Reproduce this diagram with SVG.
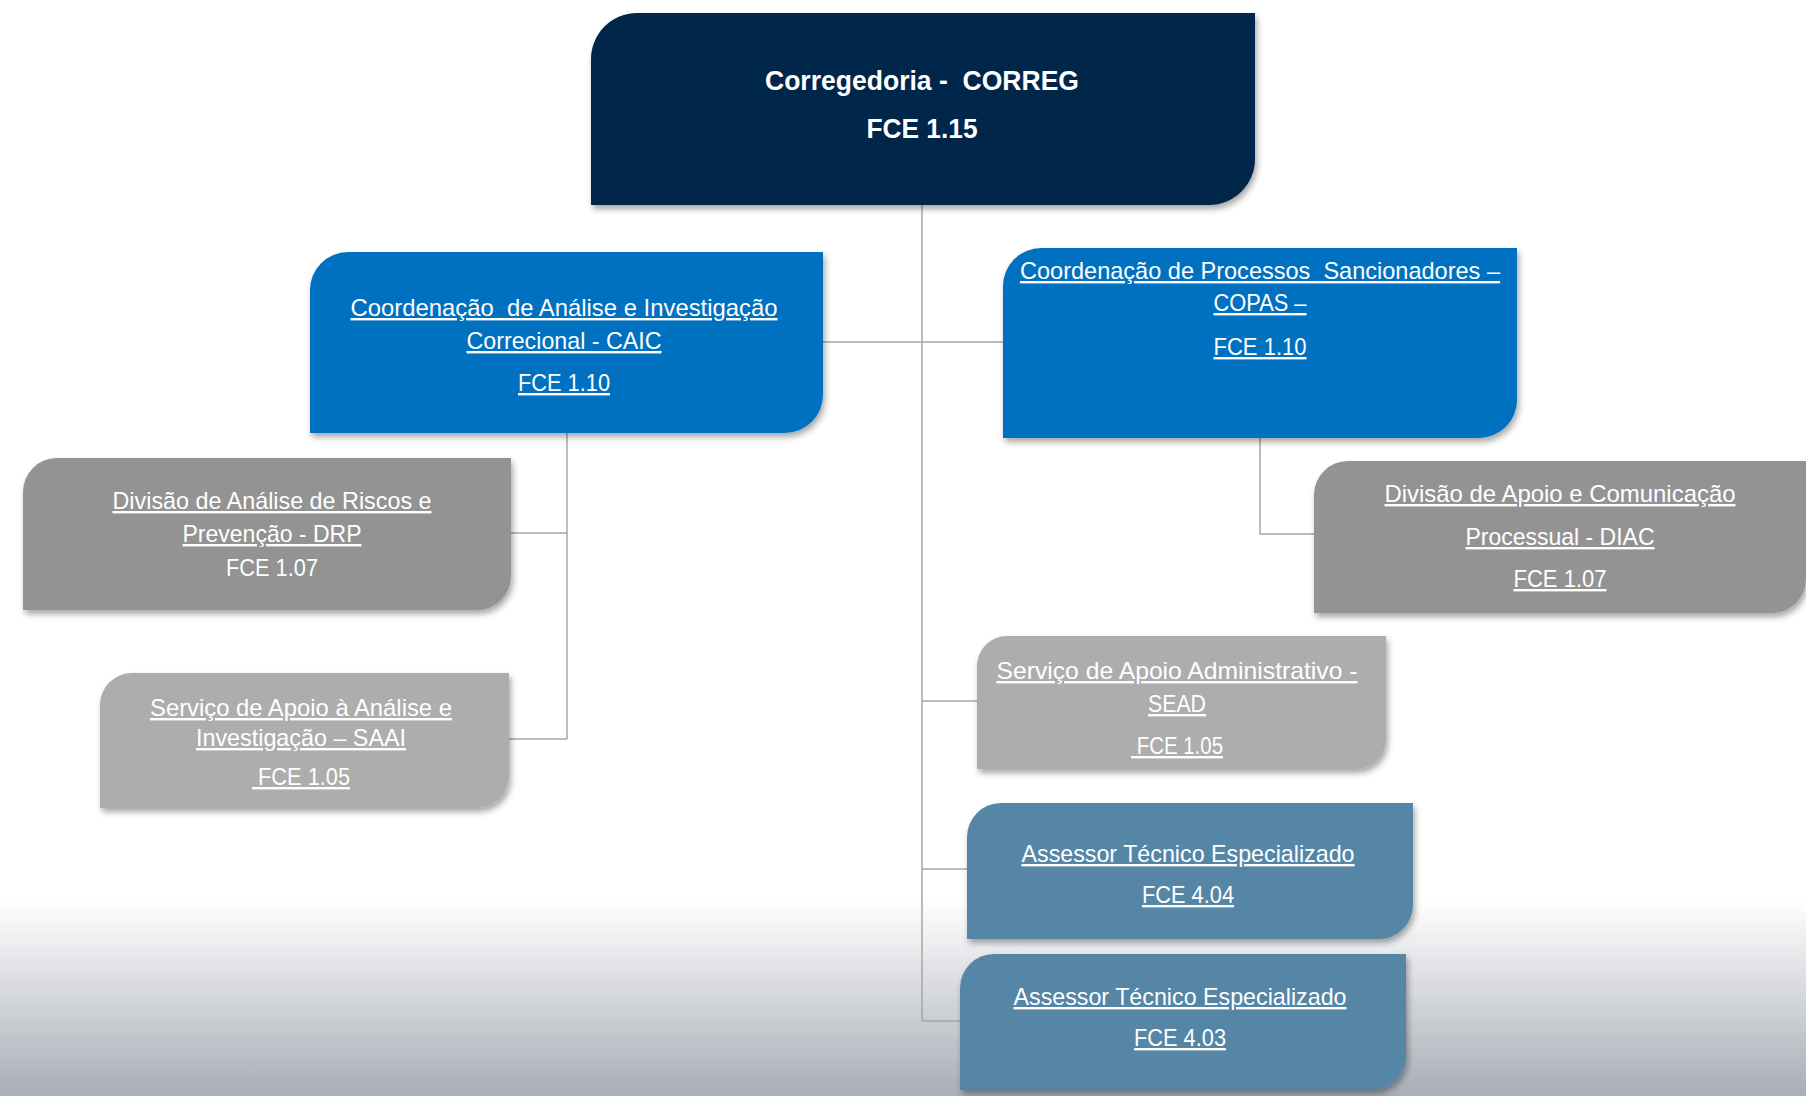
<svg xmlns="http://www.w3.org/2000/svg" width="1806" height="1096" viewBox="0 0 1806 1096">
<defs>
<linearGradient id="bg" x1="0" y1="0" x2="0" y2="1">
<stop offset="0" stop-color="#ffffff"/>
<stop offset="1" stop-color="#a8adb6"/>
</linearGradient>
<filter id="sh" x="-5%" y="-5%" width="115%" height="125%">
<feDropShadow dx="2" dy="4" stdDeviation="3" flood-color="#000" flood-opacity="0.35"/>
</filter>
</defs>
<style>
.t{font-family:"Liberation Sans",Arial,sans-serif;font-size:24px;fill:#ffffff;text-anchor:middle;white-space:pre}
.u{text-decoration:underline}
.b{font-weight:bold;font-size:28px}
.ln{stroke:#a6a6a6;stroke-width:1.5;fill:none}
.navy{fill:#04264a}
.blue{fill:#0070c0}
.gray{fill:#939393}
.lgray{fill:#adadad}
.steel{fill:#5586a6}
</style>
<rect x="0" y="0" width="1806" height="1096" fill="#ffffff"/>
<rect x="0" y="900" width="1806" height="196" fill="url(#bg)"/>

<g id="connectors">
<path class="ln" d="M922 205 V1021"/>
<path class="ln" d="M823 342 H1003"/>
<path class="ln" d="M922 701 H977"/>
<path class="ln" d="M922 869 H967"/>
<path class="ln" d="M922 1021 H960"/>
<path class="ln" d="M567 433 V739"/>
<path class="ln" d="M511 533 H567"/>
<path class="ln" d="M509 739 H567"/>
<path class="ln" d="M1260 438 V534 H1314"/>
</g>

<g id="correg">
<path class="navy" filter="url(#sh)" d="M637 13 H1255 V159 A46 46 0 0 1 1209 205 H591 V59 A46 46 0 0 1 637 13 Z"/>
<text class="t b" x="922" y="90" textLength="314" lengthAdjust="spacingAndGlyphs" xml:space="preserve">Corregedoria -  CORREG</text>
<text class="t b" x="922" y="138" textLength="111" lengthAdjust="spacingAndGlyphs">FCE 1.15</text>
</g>

<g id="caic">
<path class="blue" filter="url(#sh)" d="M348 252 H823 V395 A38 38 0 0 1 785 433 H310 V290 A38 38 0 0 1 348 252 Z"/>
<text class="t u" x="564" y="316" textLength="427" lengthAdjust="spacingAndGlyphs" xml:space="preserve">Coordenação  de Análise e Investigação</text>
<text class="t u" x="564" y="349" textLength="195" lengthAdjust="spacingAndGlyphs">Correcional - CAIC</text>
<text class="t u" x="564" y="391" textLength="92" lengthAdjust="spacingAndGlyphs">FCE 1.10</text>
</g>

<g id="copas">
<path class="blue" filter="url(#sh)" d="M1041 248 H1517 V400 A38 38 0 0 1 1479 438 H1003 V286 A38 38 0 0 1 1041 248 Z"/>
<text class="t u" x="1260" y="279" textLength="480" lengthAdjust="spacingAndGlyphs" xml:space="preserve">Coordenação de Processos  Sancionadores –</text>
<text class="t u" x="1260" y="311" textLength="93" lengthAdjust="spacingAndGlyphs">COPAS –</text>
<text class="t u" x="1260" y="355" textLength="93" lengthAdjust="spacingAndGlyphs">FCE 1.10</text>
</g>

<g id="drp">
<path class="gray" filter="url(#sh)" d="M57 458 H511 V576 A34 34 0 0 1 477 610 H23 V492 A34 34 0 0 1 57 458 Z"/>
<text class="t u" x="272" y="509" textLength="319" lengthAdjust="spacingAndGlyphs">Divisão de Análise de Riscos e</text>
<text class="t u" x="272" y="542" textLength="179" lengthAdjust="spacingAndGlyphs">Prevenção - DRP</text>
<text class="t" x="272" y="576" textLength="92" lengthAdjust="spacingAndGlyphs">FCE 1.07</text>
</g>

<g id="saai">
<path class="lgray" filter="url(#sh)" d="M132 673 H509 V776 A32 32 0 0 1 477 808 H100 V705 A32 32 0 0 1 132 673 Z"/>
<text class="t u" x="301" y="716" textLength="302" lengthAdjust="spacingAndGlyphs">Serviço de Apoio à Análise e</text>
<text class="t u" x="301" y="746" textLength="210" lengthAdjust="spacingAndGlyphs">Investigação – SAAI</text>
<text class="t u" x="301" y="785" textLength="98" lengthAdjust="spacingAndGlyphs" xml:space="preserve"> FCE 1.05</text>
</g>

<g id="diac">
<path class="gray" filter="url(#sh)" d="M1348 461 H1806 V579 A34 34 0 0 1 1772 613 H1314 V495 A34 34 0 0 1 1348 461 Z"/>
<text class="t u" x="1560" y="502" textLength="351" lengthAdjust="spacingAndGlyphs">Divisão de Apoio e Comunicação</text>
<text class="t u" x="1560" y="545" textLength="189" lengthAdjust="spacingAndGlyphs">Processual - DIAC</text>
<text class="t u" x="1560" y="587" textLength="93" lengthAdjust="spacingAndGlyphs">FCE 1.07</text>
</g>

<g id="sead">
<path class="lgray" filter="url(#sh)" d="M1007 636 H1386 V739 A30 30 0 0 1 1356 769 H977 V666 A30 30 0 0 1 1007 636 Z"/>
<text class="t u" x="1177" y="679" textLength="361" lengthAdjust="spacingAndGlyphs">Serviço de Apoio Administrativo -</text>
<text class="t u" x="1177" y="712" textLength="58" lengthAdjust="spacingAndGlyphs">SEAD</text>
<text class="t u" x="1177" y="754" textLength="92" lengthAdjust="spacingAndGlyphs" xml:space="preserve"> FCE 1.05</text>
</g>

<g id="assessor404">
<path class="steel" filter="url(#sh)" d="M1001 803 H1413 V905 A34 34 0 0 1 1379 939 H967 V837 A34 34 0 0 1 1001 803 Z"/>
<text class="t u" x="1188" y="862" textLength="333" lengthAdjust="spacingAndGlyphs">Assessor Técnico Especializado</text>
<text class="t u" x="1188" y="903" textLength="92" lengthAdjust="spacingAndGlyphs">FCE 4.04</text>
</g>

<g id="assessor403">
<path class="steel" filter="url(#sh)" d="M994 954 H1406 V1056 A34 34 0 0 1 1372 1090 H960 V988 A34 34 0 0 1 994 954 Z"/>
<text class="t u" x="1180" y="1005" textLength="333" lengthAdjust="spacingAndGlyphs">Assessor Técnico Especializado</text>
<text class="t u" x="1180" y="1046" textLength="92" lengthAdjust="spacingAndGlyphs">FCE 4.03</text>
</g>
</svg>
